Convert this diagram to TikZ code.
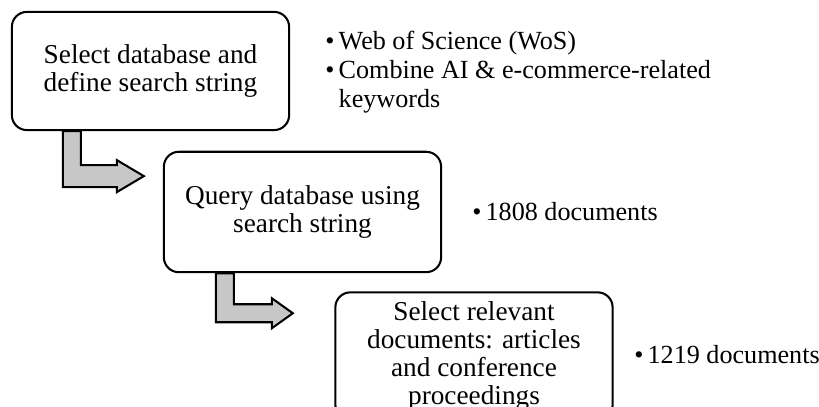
\documentclass[tikz,border=0pt]{standalone}
\usepackage{fontspec}
\setmainfont{Liberation Serif}
\usetikzlibrary{calc}

\begin{document}
\begin{tikzpicture}[x=0.44pt, y=-0.44pt,
        stepbox/.style={draw, line width=0.9pt, rounded corners=6.6pt, fill=white,
            minimum width=122pt, inner sep=0pt, align=center,
            font=\fontsize{12pt}{12.4pt}\selectfont},
        facts/.style={anchor=west, inner sep=0pt, align=left,
            font=\fontsize{11.5pt}{12.6pt}\selectfont},
        bentarrow/.style={draw, line width=0.9pt, fill=black!22, line join=miter}]
        \useasboundingbox (0, 0) rectangle (819, 407);
        \clip (0, 0) rectangle (819, 407);

        \node[stepbox, minimum height=52pt] (select) at (150.5, 71) {Select database and\\define search string};
        \node[stepbox, minimum height=53pt] (query) at (302.5, 212) {Query database using\\search string};
        \node[stepbox, minimum height=56pt] (relevant) at (474, 356) {Select relevant\\documents: articles\\and conference\\proceedings};

        \draw[bentarrow] ($(select.south west) + (52, 0)$) -- ++(18, 0) -- ++(0, 34) -- ++(36, 0) -- ++(0, -5)
            -- ++(27, 16) -- ++(-27, 16) -- ++(0, -5) -- ++(-54, 0) -- cycle;
        \draw[bentarrow] ($(query.south west) + (53, 0)$) -- ++(18, 0) -- ++(0, 31) -- ++(38, 0) -- ++(0, -6)
            -- ++(21, 15) -- ++(-21, 15) -- ++(0, -6) -- ++(-56, 0) -- cycle;

        \node[facts] (selectfacts) at (325, 72) {\textbullet\hspace{1.8pt}Web of Science (WoS)\\
            \textbullet\hspace{1.8pt}Combine AI \& e-commerce-related\\
            \phantom{\textbullet\hspace{1.8pt}}keywords};
        \node[facts] (queryfacts) at (472, 212) {\textbullet\hspace{1.8pt}1808 documents};
        \node[facts] (relevantfacts) at (634, 355) {\textbullet\hspace{1.8pt}1219 documents};
    \end{tikzpicture}
\end{document}
